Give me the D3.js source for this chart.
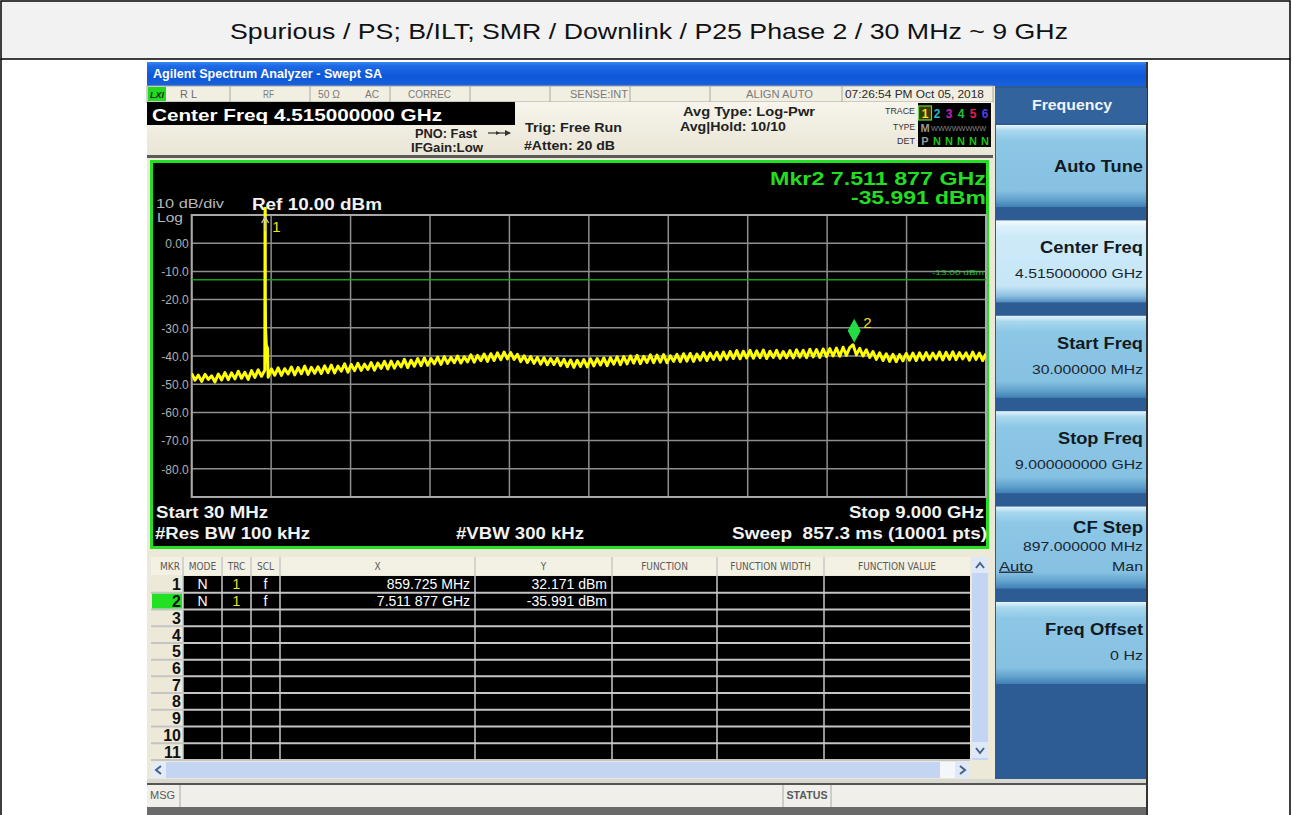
<!DOCTYPE html>
<html><head><meta charset="utf-8">
<script src="https://cdn.jsdelivr.net/npm/d3@7"></script>
<style>body{margin:0;background:#fff}svg{display:block}</style>
</head><body><svg id="c" width="1292" height="815"></svg>
<script>
// ---------------- DATA ----------------
const chartTitle = "Spurious / PS; B/ILT; SMR / Downlink / P25 Phase 2 / 30 MHz ~ 9 GHz";
const windowTitle = "Agilent Spectrum Analyzer - Swept SA";
const startFreqMHz = 30, stopFreqMHz = 9000, centerFreqGHz = "4.515000000";
const refLevelDbm = 10, dbPerDiv = 10, numDivs = 10;
const yTickValues = [0, -10, -20, -30, -40, -50, -60, -70, -80];
const yTickLabels = ["0.00", "-10.0", "-20.0", "-30.0", "-40.0", "-50.0", "-60.0", "-70.0", "-80.0"];
const limitLineDbm = -13;
const rbwKHz = 100, vbwKHz = 300, sweepMs = 857.3, sweepPts = 10001;
const traceLevels = [
-46.2,-48.6,-46.8,-49.0,-46.5,-48.3,-47.0,-49.2,-46.4,-48.5,
-45.9,-48.4,-46.0,-48.1,-45.4,-47.9,-45.8,-48.3,-45.2,-47.6,
-44.9,-47.2,-45.0,-47.5,-44.6,-46.8,-44.2,-46.9,-44.5,-46.4,
-43.9,-46.7,-44.1,-46.3,-43.6,-46.5,-44.0,-46.1,-43.8,-46.2,
-43.5,-45.9,-43.2,-46.0,-43.6,-45.4,-42.8,-45.7,-43.0,-45.2,
-42.6,-45.1,-42.9,-44.8,-42.3,-45.0,-42.5,-44.4,-41.9,-44.6,
-41.8,-44.3,-42.0,-43.9,-41.2,-44.1,-41.5,-43.6,-40.9,-43.4,
-40.7,-43.3,-40.9,-42.8,-40.4,-43.0,-40.2,-42.6,-40.5,-42.4,
-40.0,-42.5,-40.3,-42.1,-39.6,-42.2,-39.8,-41.7,-39.3,-41.9,
-39.2,-41.6,-38.9,-41.3,-38.6,-41.0,-38.8,-41.2,-39.4,-42.0,
-39.9,-42.3,-40.2,-42.6,-40.5,-42.9,-40.6,-43.1,-40.9,-43.0,
-40.8,-43.4,-41.2,-43.8,-41.4,-44.0,-41.5,-43.7,-41.3,-43.9,
-41.0,-43.5,-40.9,-43.2,-40.7,-43.4,-40.6,-42.9,-40.3,-43.1,
-40.2,-42.8,-40.0,-42.5,-39.8,-42.7,-40.1,-42.3,-39.6,-42.4,
-39.7,-42.2,-39.5,-42.4,-39.9,-41.9,-39.4,-42.0,-39.2,-41.8,
-39.1,-41.9,-39.3,-41.5,-38.8,-41.6,-39.0,-41.2,-38.7,-41.4,
-38.6,-41.1,-38.4,-40.9,-38.1,-41.0,-38.3,-40.7,-38.0,-40.8,
-38.2,-40.6,-37.9,-40.9,-38.3,-40.5,-38.0,-40.8,-38.4,-40.6,
-38.1,-40.7,-37.8,-40.4,-38.0,-40.6,-37.6,-40.3,-37.7,-40.5,
-37.5,-40.2,-37.4,-40.0,-37.2,-40.1,-36.9,-39.8,-37.0,-36.0,
-39.6,-37.3,-40.0,-37.8,-40.5,-38.4,-41.2,-38.9,-41.6,-39.2,
-41.9,-39.4,-42.0,-39.5,-41.7,-39.1,-41.5,-39.0,-41.6,-38.9,
-41.4,-38.8,-41.3,-39.0,-41.1,-38.6,-41.4,-38.7,-41.2,-38.5,
-41.3,-38.8,-41.0,-38.9,-41.5,-38.6,-41.2,-39.0,-41.6,-39.2];
const spikeFreqsMHz = [859.725, 861.5, 864, 868, 872, 880, 887, 891];
const spikeLevels   = [32.171, -20, -30.5, -33, -36, -36.8, -37.2, -44];
const markerIds = [1, 2];
const markerFreqsMHz = [859.725, 7511.877];
const markerLevels = [32.171, -35.991];
const markerModes = ["N", "N"];
const markerTraces = ["1", "1"];
const markerScales = ["f", "f"];
const tableRowNums = [1,2,3,4,5,6,7,8,9,10,11];
const tableHeaders = ["MKR","MODE","TRC","SCL","X","Y","FUNCTION","FUNCTION WIDTH","FUNCTION VALUE"];
const statusTexts = ["R L","RF","50 Ω   AC","CORREC","","SENSE:INT","","ALIGN AUTO","07:26:54 PM Oct 05, 2018"];
const softkeyHeader = "Frequency";
const softkeyTitles = ["Auto Tune","Center Freq","Start Freq","Stop Freq","CF Step","Freq Offset"];
const softkeyValues = ["","4.515000000 GHz","30.000000 MHz","9.000000000 GHz","897.000000 MHz","0 Hz"];
const traceNums = ["1","2","3","4","5","6"];
const traceNumColors = ["#f0e020","#20b8c8","#c020c0","#20c040","#e02050","#5a3ee0"];

// ---------------- HELPERS ----------------
const FF = "'Liberation Sans',Arial,sans-serif";
const svg = d3.select("#c");
function T(g, x, y, s, o = {}) {
  const t = g.append("text").attr("x", x).attr("y", y).text(s)
    .attr("font-family", o.family || FF).attr("font-size", o.size || 12)
    .attr("font-weight", o.weight || "normal").attr("fill", o.fill || "#000")
    .attr("text-anchor", o.anchor || "start");
  if (o.len) t.attr("textLength", o.len).attr("lengthAdjust", "spacingAndGlyphs");
  if (o.deco) t.attr("text-decoration", o.deco);
  return t;
}
function R(g, x, y, w, h, fill, stroke, sw) {
  const r = g.append("rect").attr("x", x).attr("y", y).attr("width", w).attr("height", h).attr("fill", fill || "none");
  if (stroke) r.attr("stroke", stroke).attr("stroke-width", sw || 1);
  return r;
}
function fmtFreq(f) {
  if (f >= 1000) { const s = (f / 1000).toFixed(6); return s.slice(0, s.length - 3) + " " + s.slice(-3) + " GHz"; }
  return f.toFixed(3) + " MHz";
}
const fmtLvl = v => v.toFixed(3) + " dBm";

const defs = svg.append("defs");
function grad(id, stops) {
  const g = defs.append("linearGradient").attr("id", id).attr("x1", 0).attr("y1", 0).attr("x2", 0).attr("y2", 1);
  stops.forEach(s => g.append("stop").attr("offset", s[0]).attr("stop-color", s[1]));
}
grad("gTitle", [[0, "#3c8af0"], [0.15, "#1f6ae6"], [0.6, "#0d58d8"], [1, "#1a62dc"]]);
grad("gBtn", [[0, "#e6f5fc"], [0.07, "#a9d8ee"], [0.2, "#8cc7e6"], [0.8, "#86c1e2"], [0.92, "#5f9fcb"], [1, "#3f7fb4"]]);
grad("gBtnSel", [[0, "#f6fcff"], [0.07, "#dcf1fb"], [0.2, "#cdeaf8"], [0.8, "#c6e6f6"], [0.92, "#8ebfe0"], [1, "#4f8ebf"]]);
grad("gHead", [[0, "#f7f5ec"], [1, "#e9e5d6"]]);

// ---------------- PAGE FRAME + TITLE ----------------
R(svg, 1, 1, 1289, 58, "#f2f2f2", "#000", 1.5);
svg.append("line").attr("x1", 1).attr("x2", 1).attr("y1", 59).attr("y2", 815).attr("stroke", "#000").attr("stroke-width", 1.5);
svg.append("line").attr("x1", 1290).attr("x2", 1290).attr("y1", 59).attr("y2", 815).attr("stroke", "#000").attr("stroke-width", 1.5);
T(svg, 649, 39, chartTitle, { size: 22, anchor: "middle", len: 838, fill: "#111" });

// ---------------- SCREENSHOT BASE ----------------
const S = svg.append("g");
R(S, 147, 62, 1001, 753, "#ece9d8");
R(S, 147, 62, 1001, 24, "url(#gTitle)");
T(S, 153, 78, windowTitle, { size: 12, weight: "bold", fill: "#fff", len: 229 });

// status row
const statusEdges = [147, 230, 310, 390, 470, 550, 630, 710, 842, 993];
R(S, 147, 86, 846, 16, "#f1eee2", "#a9a79c", 1);
statusEdges.slice(1, -1).forEach(x => S.append("line").attr("x1", x).attr("x2", x).attr("y1", 86).attr("y2", 102).attr("stroke", "#a9a79c"));
R(S, 148, 87, 18, 14, "#22d822");
T(S, 150, 98, "LXI", { size: 9, weight: "bold", fill: "#113311", len: 14 }).attr("font-style", "italic");
T(S, 180, 98, statusTexts[0], { size: 10, fill: "#6b6b6b", len: 17 });
T(S, 263, 98, statusTexts[1], { size: 10, fill: "#7a7a7a", len: 11 });
T(S, 318, 98, "50 Ω", { size: 10, fill: "#7a7a7a", len: 22 });
T(S, 365, 98, "AC", { size: 10, fill: "#7a7a7a", len: 14 });
T(S, 408, 98, statusTexts[3], { size: 10, fill: "#7a7a7a", len: 43 });
T(S, 570, 98, statusTexts[5], { size: 10, fill: "#7a7a7a", len: 58 });
T(S, 746, 98, statusTexts[7], { size: 10, fill: "#7a7a7a", len: 67 });
T(S, 845, 98, statusTexts[8], { size: 10.5, fill: "#2a2a2a", len: 139 });

// second header row
R(S, 147, 102, 846, 54, "url(#gHead)");
R(S, 147, 102, 368, 23, "#000");
T(S, 152, 121, "Center Freq " + centerFreqGHz + " GHz", { size: 17, weight: "bold", fill: "#fff", len: 290 });
T(S, 415, 138, "PNO: Fast", { size: 12, weight: "bold", fill: "#222", len: 62 });
S.append("line").attr("x1", 488).attr("x2", 510).attr("y1", 133).attr("y2", 133).attr("stroke", "#333").attr("stroke-width", 1.2);
S.append("path").attr("d", "M505,130 L511,133 L505,136 Z M496,131 L500,133 L496,135 Z").attr("fill", "#333");
T(S, 411, 152, "IFGain:Low", { size: 12, weight: "bold", fill: "#222", len: 72 });
T(S, 525, 132, "Trig: Free Run", { size: 12.5, weight: "bold", fill: "#222", len: 97 });
T(S, 524, 150, "#Atten: 20 dB", { size: 12.5, weight: "bold", fill: "#222", len: 91 });
T(S, 683, 116, "Avg Type: Log-Pwr", { size: 12.5, weight: "bold", fill: "#222", len: 132 });
T(S, 680, 131, "Avg|Hold: 10/10", { size: 12.5, weight: "bold", fill: "#222", len: 106 });
// trace block
T(S, 915, 114, "TRACE", { size: 9, fill: "#333", anchor: "end", len: 30 });
T(S, 915, 130, "TYPE", { size: 9, fill: "#333", anchor: "end", len: 22 });
T(S, 915, 144, "DET", { size: 9, fill: "#333", anchor: "end", len: 18 });
R(S, 918, 103, 73, 44, "#000");
const tx = d3.scaleBand().domain(traceNums).range([919, 991]);
R(S, tx("1") - 0.5, 106, tx.bandwidth() + 1, 14, "#3a3a00", "#6ad040", 1.2);
traceNums.forEach((n, i) => T(S, tx(n) + tx.bandwidth() / 2, 118, n, { size: 12, weight: "bold", fill: traceNumColors[i], anchor: "middle" }));
T(S, tx("1") + tx.bandwidth() / 2, 132, "M", { size: 11, weight: "bold", fill: "#9a9a9a", anchor: "middle" });
T(S, tx("2"), 131, "WWWWWWWW", { size: 8, fill: "#8a8a8a", len: 55 });
T(S, tx("1") + tx.bandwidth() / 2, 145, "P", { size: 11, weight: "bold", fill: "#9a9a9a", anchor: "middle" });
traceNums.slice(1).forEach(n => T(S, tx(n) + tx.bandwidth() / 2, 145, "N", { size: 11, weight: "bold", fill: "#20c020", anchor: "middle" }));

// ---------------- PLOT PANEL ----------------
R(S, 147, 155, 846, 3, "#5a5a58");
R(S, 151.5, 161.5, 836, 386, "#000", "#22e022", 3);
const P = S.append("g");
const x = d3.scaleLinear().domain([startFreqMHz, stopFreqMHz]).range([191.7, 986]);
const yTop = refLevelDbm, yBot = refLevelDbm - dbPerDiv * numDivs;
const y = d3.scaleLinear().domain([yBot, yTop]).range([497, 215]);
const stepMHz = (stopFreqMHz - startFreqMHz) / numDivs;
const vLines = d3.range(numDivs + 1).map(k => startFreqMHz + k * stepMHz);
const hLines = d3.range(numDivs + 1).map(k => yTop - k * dbPerDiv);
P.selectAll(".vg").data(vLines).join("line").attr("x1", d => x(d)).attr("x2", d => x(d)).attr("y1", y(yTop)).attr("y2", y(yBot)).attr("stroke", "#8e8e8e").attr("stroke-width", 1.5);
P.selectAll(".hg").data(hLines).join("line").attr("x1", x(startFreqMHz)).attr("x2", x(stopFreqMHz)).attr("y1", d => y(d)).attr("y2", d => y(d)).attr("stroke", "#8e8e8e").attr("stroke-width", 1.5);
R(P, x(startFreqMHz), y(yTop), x(stopFreqMHz) - x(startFreqMHz), y(yBot) - y(yTop), "none", "#a8a8a8", 2);
// y tick labels via axis
const ax = P.append("g").attr("transform", `translate(${x(startFreqMHz) - 3},0)`)
  .call(d3.axisLeft(y).tickValues(yTickValues).tickFormat((d, i) => yTickLabels[i]).tickSize(0).tickPadding(0));
ax.select(".domain").remove();
ax.selectAll("text").attr("font-family", FF).attr("font-size", 12).attr("fill", "#b0b0b0").attr("dy", "0.36em");
T(P, 156, 208, dbPerDiv + " dB/div", { size: 12.5, fill: "#b8b8b8", len: 68 });
T(P, 157, 222, "Log", { size: 12, fill: "#b8b8b8", len: 26 });
T(P, 252, 210, "Ref " + refLevelDbm.toFixed(2) + " dBm", { size: 16, weight: "bold", fill: "#f2f2f2", len: 130 });
// limit line
P.append("line").attr("x1", x(startFreqMHz)).attr("x2", x(stopFreqMHz)).attr("y1", y(limitLineDbm)).attr("y2", y(limitLineDbm)).attr("stroke", "#16a016").attr("stroke-width", 1.5);
T(P, 984, y(limitLineDbm) - 5, limitLineDbm.toFixed(2) + " dBm", { size: 8, fill: "#2cbf2c", anchor: "end", len: 52 });
// trace
const clip = defs.append("clipPath").attr("id", "pc");
clip.append("rect").attr("x", x(startFreqMHz)).attr("y", 207).attr("width", x(stopFreqMHz) - x(startFreqMHz)).attr("height", y(yBot) - 207);
const tracePts = traceLevels.map((v, i) => [startFreqMHz + i * (stopFreqMHz - startFreqMHz) / (traceLevels.length - 1), v]);
spikeFreqsMHz.forEach((f, i) => tracePts.push([f, spikeLevels[i]]));
tracePts.sort((a, b) => a[0] - b[0]);
P.append("path").attr("clip-path", "url(#pc)").attr("d", d3.line().x(d => x(d[0])).y(d => y(d[1]))(tracePts))
  .attr("fill", "none").attr("stroke", "#ffff00").attr("stroke-width", 3).attr("stroke-linejoin", "round");
// markers
markerIds.forEach((id, i) => {
  const mx = x(markerFreqsMHz[i]);
  if (markerLevels[i] > yTop) {
    const ty = y(yTop) + 2;
    P.append("path").attr("d", `M${mx - 3.5},${ty + 6} L${mx},${ty} L${mx + 3.5},${ty + 6} M${mx},${ty} L${mx},${ty + 14}`).attr("stroke", "#c8c8c8").attr("stroke-width", 1.3).attr("fill", "none");
    T(P, mx + 7, ty + 15, String(id), { size: 15, fill: "#f0e020" });
  } else {
    const my = y(markerLevels[i]);
    P.append("path").attr("d", `M${mx},${my - 2} L${mx + 6.5},${my - 14} L${mx},${my - 26} L${mx - 6.5},${my - 14} Z`).attr("fill", "#22dd44");
    T(P, mx + 9, my - 17, String(id), { size: 15, fill: "#f0e020" });
  }
});
const am = markerIds.length - 1;
T(P, 986, 185, "Mkr" + markerIds[am] + " " + fmtFreq(markerFreqsMHz[am]), { size: 19, weight: "bold", fill: "#22dd22", anchor: "end", len: 216 });
T(P, 986, 204, fmtLvl(markerLevels[am]), { size: 19, weight: "bold", fill: "#22dd22", anchor: "end", len: 135 });
T(P, 156, 518, "Start " + startFreqMHz + " MHz", { size: 16, weight: "bold", fill: "#f2f2f2", len: 112 });
T(P, 155, 539, "#Res BW " + rbwKHz + " kHz", { size: 16, weight: "bold", fill: "#f2f2f2", len: 155 });
T(P, 456, 539, "#VBW " + vbwKHz + " kHz", { size: 16, weight: "bold", fill: "#f2f2f2", len: 128 });
T(P, 984, 518, "Stop " + (stopFreqMHz / 1000).toFixed(3) + " GHz", { size: 16, weight: "bold", fill: "#f2f2f2", anchor: "end", len: 135 });
T(P, 987, 539, "Sweep  " + sweepMs + " ms (" + sweepPts + " pts)", { size: 16, weight: "bold", fill: "#f2f2f2", anchor: "end", len: 255 }).attr("xml:space", "preserve");

// ---------------- MARKER TABLE ----------------
const Tb = S.append("g");
const colEdges = [151, 183, 222, 251, 280, 475, 612, 717, 824, 970];
R(Tb, 151, 557, 819, 18, "#f3f0e4");
tableHeaders.forEach((h, i) => {
  T(Tb, (colEdges[i] + colEdges[i + 1]) / 2 + (i === 0 ? 3 : 0), 570, h, { size: 10, fill: "#5a5a5a", anchor: "middle", family: "'DejaVu Sans Condensed','DejaVu Sans',sans-serif" });
});
const rowY = d3.scaleBand().domain(tableRowNums).range([576, 760]);
R(Tb, colEdges[1], 576, colEdges[9] - colEdges[1], 184, "#000");
R(Tb, colEdges[0], 576, colEdges[1] - colEdges[0], 184, "#ece9d8");
Tb.selectAll(".rl").data(tableRowNums).join("line").attr("x1", colEdges[0]).attr("x2", colEdges[9])
  .attr("y1", d => rowY(d) + rowY.bandwidth()).attr("y2", d => rowY(d) + rowY.bandwidth()).attr("stroke", "#c4c4c4").attr("stroke-width", 2);
Tb.selectAll(".cl").data(colEdges.slice(1, -1)).join("line").attr("x1", d => d).attr("x2", d => d).attr("y1", 557).attr("y2", 760).attr("stroke", "#c8c8c8").attr("stroke-width", 1.5);
tableRowNums.forEach(n => {
  const yy = rowY(n) + rowY.bandwidth() / 2;
  const mi = markerIds.indexOf(n);
  if (mi === markerIds.length - 1) R(Tb, 152, rowY(n) + 1, colEdges[1] - 153, rowY.bandwidth() - 2, "#22e022");
  T(Tb, 181, yy + 6, String(n), { size: 16, weight: "bold", fill: "#111", anchor: "end" });
  if (mi >= 0) {
    T(Tb, (colEdges[1] + colEdges[2]) / 2, yy + 5, markerModes[mi], { size: 14, fill: "#fff", anchor: "middle" });
    T(Tb, (colEdges[2] + colEdges[3]) / 2, yy + 5, markerTraces[mi], { size: 14, fill: "#f0e020", anchor: "middle" });
    T(Tb, (colEdges[3] + colEdges[4]) / 2, yy + 5, markerScales[mi], { size: 14, fill: "#fff", anchor: "middle" });
    T(Tb, colEdges[5] - 5, yy + 5, fmtFreq(markerFreqsMHz[mi]), { size: 14, fill: "#fff", anchor: "end" });
    T(Tb, colEdges[6] - 5, yy + 5, fmtLvl(markerLevels[mi]), { size: 14, fill: "#fff", anchor: "end" });
  }
});
// scrollbars
R(Tb, 972, 557, 16, 203, "#c3d5f2");
R(Tb, 972, 557, 16, 16, "#dde8f8");
R(Tb, 972, 742, 16, 16, "#dde8f8");
Tb.append("path").attr("d", "M976,568 L980,563 L984,568 M976,748 L980,753 L984,748").attr("stroke", "#4a5f86").attr("stroke-width", 2).attr("fill", "none");
R(Tb, 151, 762, 819, 16, "#c3d5f3");
R(Tb, 151, 762, 15, 16, "#e3ecf9");
R(Tb, 940, 762, 15, 16, "#f3f6fb");
R(Tb, 955, 762, 15, 16, "#dde8f8");
Tb.append("path").attr("d", "M161,766 L156,770 L161,774 M960,766 L965,770 L960,774").attr("stroke", "#4a5f86").attr("stroke-width", 2).attr("fill", "none");

// ---------------- BOTTOM BARS ----------------
R(S, 147, 779, 1001, 5, "#d8d8d0");
R(S, 147, 783, 1001, 2, "#555");
R(S, 147, 785, 1001, 22, "#f0efe9");
R(S, 147, 807, 1001, 8, "#6a6a6a");
S.append("line").attr("x1", 180).attr("x2", 180).attr("y1", 785).attr("y2", 807).attr("stroke", "#a8a8a8");
S.append("line").attr("x1", 783).attr("x2", 783).attr("y1", 785).attr("y2", 807).attr("stroke", "#a8a8a8");
S.append("line").attr("x1", 831).attr("x2", 831).attr("y1", 785).attr("y2", 807).attr("stroke", "#a8a8a8");
T(S, 150, 799, "MSG", { size: 10, fill: "#5a5a5a", len: 25 });
T(S, 807, 799, "STATUS", { size: 10, weight: "bold", fill: "#5a5a5a", anchor: "middle", len: 41 });

// ---------------- SOFTKEY PANEL ----------------
const K = S.append("g");
R(K, 995, 86, 152, 693, "#2d5c94");
R(K, 1146, 62, 2, 753, "#333");
R(K, 995, 88, 152, 35, "#33639c");
T(K, 1072, 110, softkeyHeader, { size: 14, weight: "bold", fill: "#eef4fb", anchor: "middle", len: 80 });
const kb = d3.scaleBand().domain(d3.range(softkeyTitles.length)).range([125, 125 + 93 * softkeyTitles.length]).paddingInner(14 / 93).paddingOuter(0);
const titleLens = [89, 103, 86, 85, 70, 98];
const valueLens = [0, 128, 111, 128, 120, 33];
softkeyTitles.forEach((t, i) => {
  const top = kb(i);
  R(K, 996, top, 150, kb.bandwidth() + 1, i === 1 ? "url(#gBtnSel)" : "url(#gBtn)");
  if (!softkeyValues[i]) {
    T(K, 1143, top + 47, t, { size: 16, weight: "bold", fill: "#121a22", anchor: "end", len: titleLens[i] });
  } else if (i === 4) {
    T(K, 1143, top + 26, t, { size: 16, weight: "bold", fill: "#121a22", anchor: "end", len: titleLens[i] });
    T(K, 1143, top + 44, softkeyValues[i], { size: 13, fill: "#1a2530", anchor: "end", len: valueLens[i] });
    T(K, 999, top + 64, "Auto", { size: 13, fill: "#1a2530", len: 34, deco: "underline" });
    T(K, 1143, top + 64, "Man", { size: 13, fill: "#1a2530", anchor: "end", len: 31 });
  } else {
    T(K, 1143, top + 33, t, { size: 16, weight: "bold", fill: "#121a22", anchor: "end", len: titleLens[i] });
    T(K, 1143, top + 58, softkeyValues[i], { size: 13, fill: "#1a2530", anchor: "end", len: valueLens[i] });
  }
});
</script></body></html>
